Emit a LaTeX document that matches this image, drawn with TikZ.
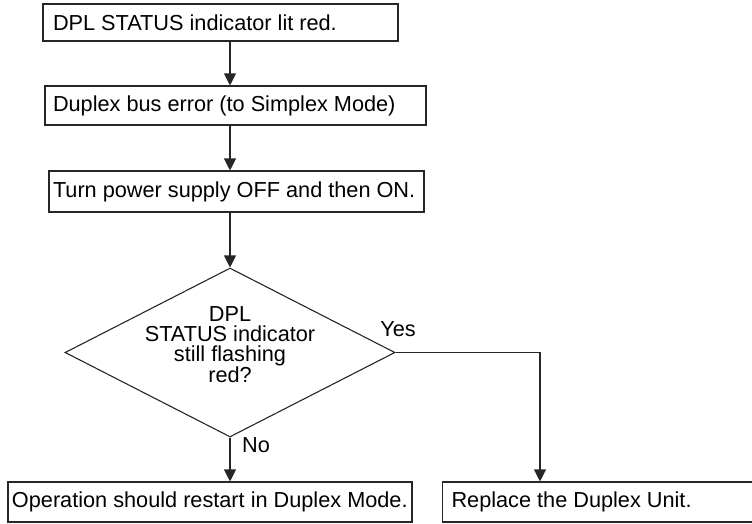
\documentclass[tikz,border=0pt]{standalone}
\usepackage{fontspec}
\setmainfont{Liberation Sans}
\usetikzlibrary{shapes.geometric,arrows.meta}
\newcommand{\lftxt}[2]{\makebox[#1][l]{#2}}
\begin{document}
\begin{tikzpicture}[x=1pt,y=-1pt,
  linecol/.style={draw=black!85,line width=1.1pt},
  stepbox/.style={linecol,rectangle,inner ysep=0pt,minimum height=39pt,
    font=\fontsize{21.7}{22}\selectfont},
  decbox/.style={linecol,diamond,shape aspect=1.95,inner sep=0pt,
    minimum width=330pt,minimum height=169pt},
  dectext/.style={align=center,inner sep=0pt,
    font=\fontsize{21.7}{20}\selectfont},
  lbl/.style={inner sep=0pt,font=\fontsize{21.7}{22}\selectfont},
  arr/.style={linecol,-{Triangle[length=12pt,width=12pt]}}]
\useasboundingbox (0,0) rectangle (752,523);

\node[stepbox,inner xsep=10pt,minimum height=37pt] (b1) at (220.5,22.5)
  {\lftxt{335pt}{DPL STATUS indicator lit red.}};
\node[stepbox,inner xsep=8pt] (b2) at (235.5,105.5)
  {\lftxt{365pt}{Duplex bus error (to Simplex Mode)}};
\node[stepbox,inner xsep=4pt,minimum height=41pt] (b3) at (236.5,191.5)
  {\lftxt{367pt}{Turn power supply OFF and then ON.}};
\node[decbox] (dec) at (230,352.5) {};
\node[dectext] (dect) at (230,345)
  {DPL\\STATUS indicator\\still flashing\\red?};
\node[stepbox,inner xsep=4pt,minimum height=40pt] (b5) at (210,502)
  {\lftxt{396pt}{Operation should restart in Duplex Mode.}};
\node[stepbox,inner xsep=9pt,minimum height=40pt,anchor=west] (b4) at (442,502)
  {\lftxt{300pt}{Replace the Duplex Unit.}};

\node[lbl] (yes) at (398,329.5) {Yes};
\node[lbl] (no) at (256,445) {No};

\draw[arr] (b1.south -| dec.north) -- (b2.north -| dec.north);
\draw[arr] (b2.south -| dec.north) -- (b3.north -| dec.north);
\draw[arr] (b3.south -| dec.north) -- (dec.north);
\draw[arr] (dec.south) -- (b5.north -| dec.south);
\coordinate (turn) at (540,352.5);
\draw[arr] (dec.east) -- (turn) -- (turn |- b4.north);
\end{tikzpicture}
\end{document}
